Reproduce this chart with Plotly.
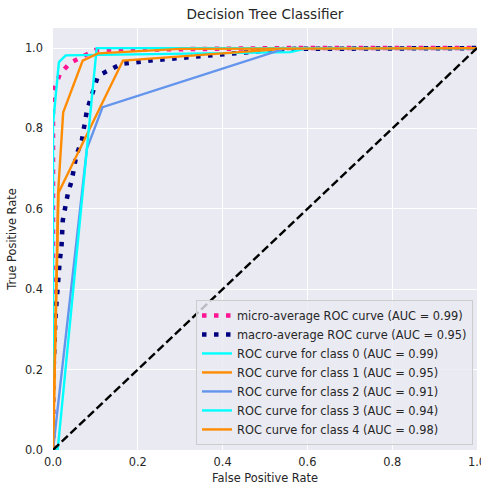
import plotly.graph_objects as go

title_text = "Decision Tree Classifier"
x_title = "False Positive Rate"
y_title = "True Positive Rate"
tick_vals = [0.0, 0.2, 0.4, 0.6, 0.8, 1.0]

micro_fpr = [0, 0, 0.016, 0.04, 0.1, 0.39, 0.55, 1.0]
micro_tpr = [0, 0.89, 0.935, 0.963, 0.995, 0.997, 1.0, 1.0]
micro_label = "micro-average ROC curve (AUC = 0.99)"

macro_fpr = [0, 0, 0.006, 0.010, 0.016, 0.020, 0.023, 0.035, 0.044, 0.055, 0.068,
             0.080, 0.094, 0.105, 0.117, 0.129, 0.162, 0.24, 0.35, 0.55, 1.0]
macro_tpr = [0, 0.16, 0.335, 0.406, 0.472, 0.505, 0.571, 0.638, 0.67, 0.733, 0.77,
             0.845, 0.895, 0.927, 0.937, 0.944, 0.961, 0.97, 0.98, 0.998, 1.0]
macro_label = "macro-average ROC curve (AUC = 0.95)"

class_fpr = [
    [0, 0, 0.014, 0.03, 0.56, 0.6, 1.0],
    [0, 0.013, 0.165, 0.57, 1.0],
    [0, 0.08, 0.117, 0.55, 1.0],
    [0, 0.011, 0.103, 1.0],
    [0, 0.012, 0.024, 0.07, 0.106, 0.3, 1.0],
]
class_tpr = [
    [0, 0.81, 0.965, 0.982, 0.99, 1.0, 1.0],
    [0, 0.64, 0.969, 1.0, 1.0],
    [0, 0.75, 0.853, 1.0, 1.0],
    [0, 0, 1.0, 1.0],
    [0, 0.64, 0.84, 0.969, 0.987, 0.998, 1.0],
]
class_auc = [0.99, 0.95, 0.91, 0.94, 0.98]
class_colors = ["#00FFFF", "#FF8C00", "#6495ED", "#00FFFF", "#FF8C00"]

diag_x = [0, 1]
diag_y = [0, 1]

fig = go.Figure()
fig.add_trace(go.Scatter(x=micro_fpr, y=micro_tpr, mode="lines", name=micro_label,
                         line=dict(color="#FF1493", width=4.5, dash="4.5px,7.5px")))
fig.add_trace(go.Scatter(x=macro_fpr, y=macro_tpr, mode="lines", name=macro_label,
                         line=dict(color="#000080", width=4.5, dash="4.5px,7.5px")))
for i in range(5):
    fig.add_trace(go.Scatter(x=class_fpr[i], y=class_tpr[i], mode="lines",
                             name=f"ROC curve for class {i} (AUC = {class_auc[i]:.2f})",
                             line=dict(color=class_colors[i], width=2.4)))
fig.add_trace(go.Scatter(x=diag_x, y=diag_y, mode="lines", showlegend=False,
                         line=dict(color="black", width=2.4, dash="8.4px,3.6px")))

font_family = "DejaVu Sans, sans-serif"
fig.update_layout(
    width=481, height=487,
    margin=dict(l=53, r=4, t=28, b=37),
    paper_bgcolor="white",
    plot_bgcolor="#EAEAF2",
    font=dict(family=font_family, color="#262626", size=11.4),
    title=dict(text=title_text, x=0.5, xref="paper", y=1 - 14.5 / 487, yanchor="middle",
               font=dict(size=13.6, color="#262626")),
    legend=dict(x=0.9906, y=0.012, xanchor="right", yanchor="bottom",
                bgcolor="rgba(234,234,242,0.8)", bordercolor="#cccccc", borderwidth=1,
                font=dict(size=11.4, color="#262626")),
    showlegend=True,
)
fig.update_xaxes(range=[0, 1.0], tickvals=tick_vals, tickformat=".1f",
                 showgrid=True, gridcolor="white", gridwidth=1.2, zeroline=False,
                 showline=False, ticks="", ticklabelstandoff=4, ticklabeloverflow="allow",
                 title=dict(text=x_title, standoff=5, font=dict(size=11.4)),
                 automargin=False)
fig.update_yaxes(range=[0, 1.05], tickvals=tick_vals, tickformat=".1f",
                 showgrid=True, gridcolor="white", gridwidth=1.2, zeroline=False,
                 showline=False, ticks="", ticklabelstandoff=9,
                 title=dict(text=y_title, standoff=5, font=dict(size=11.4)),
                 automargin=False)

fig.write_html("out.html", config={"displayModeBar": False},
               post_script="document.body.style.margin='0';")
